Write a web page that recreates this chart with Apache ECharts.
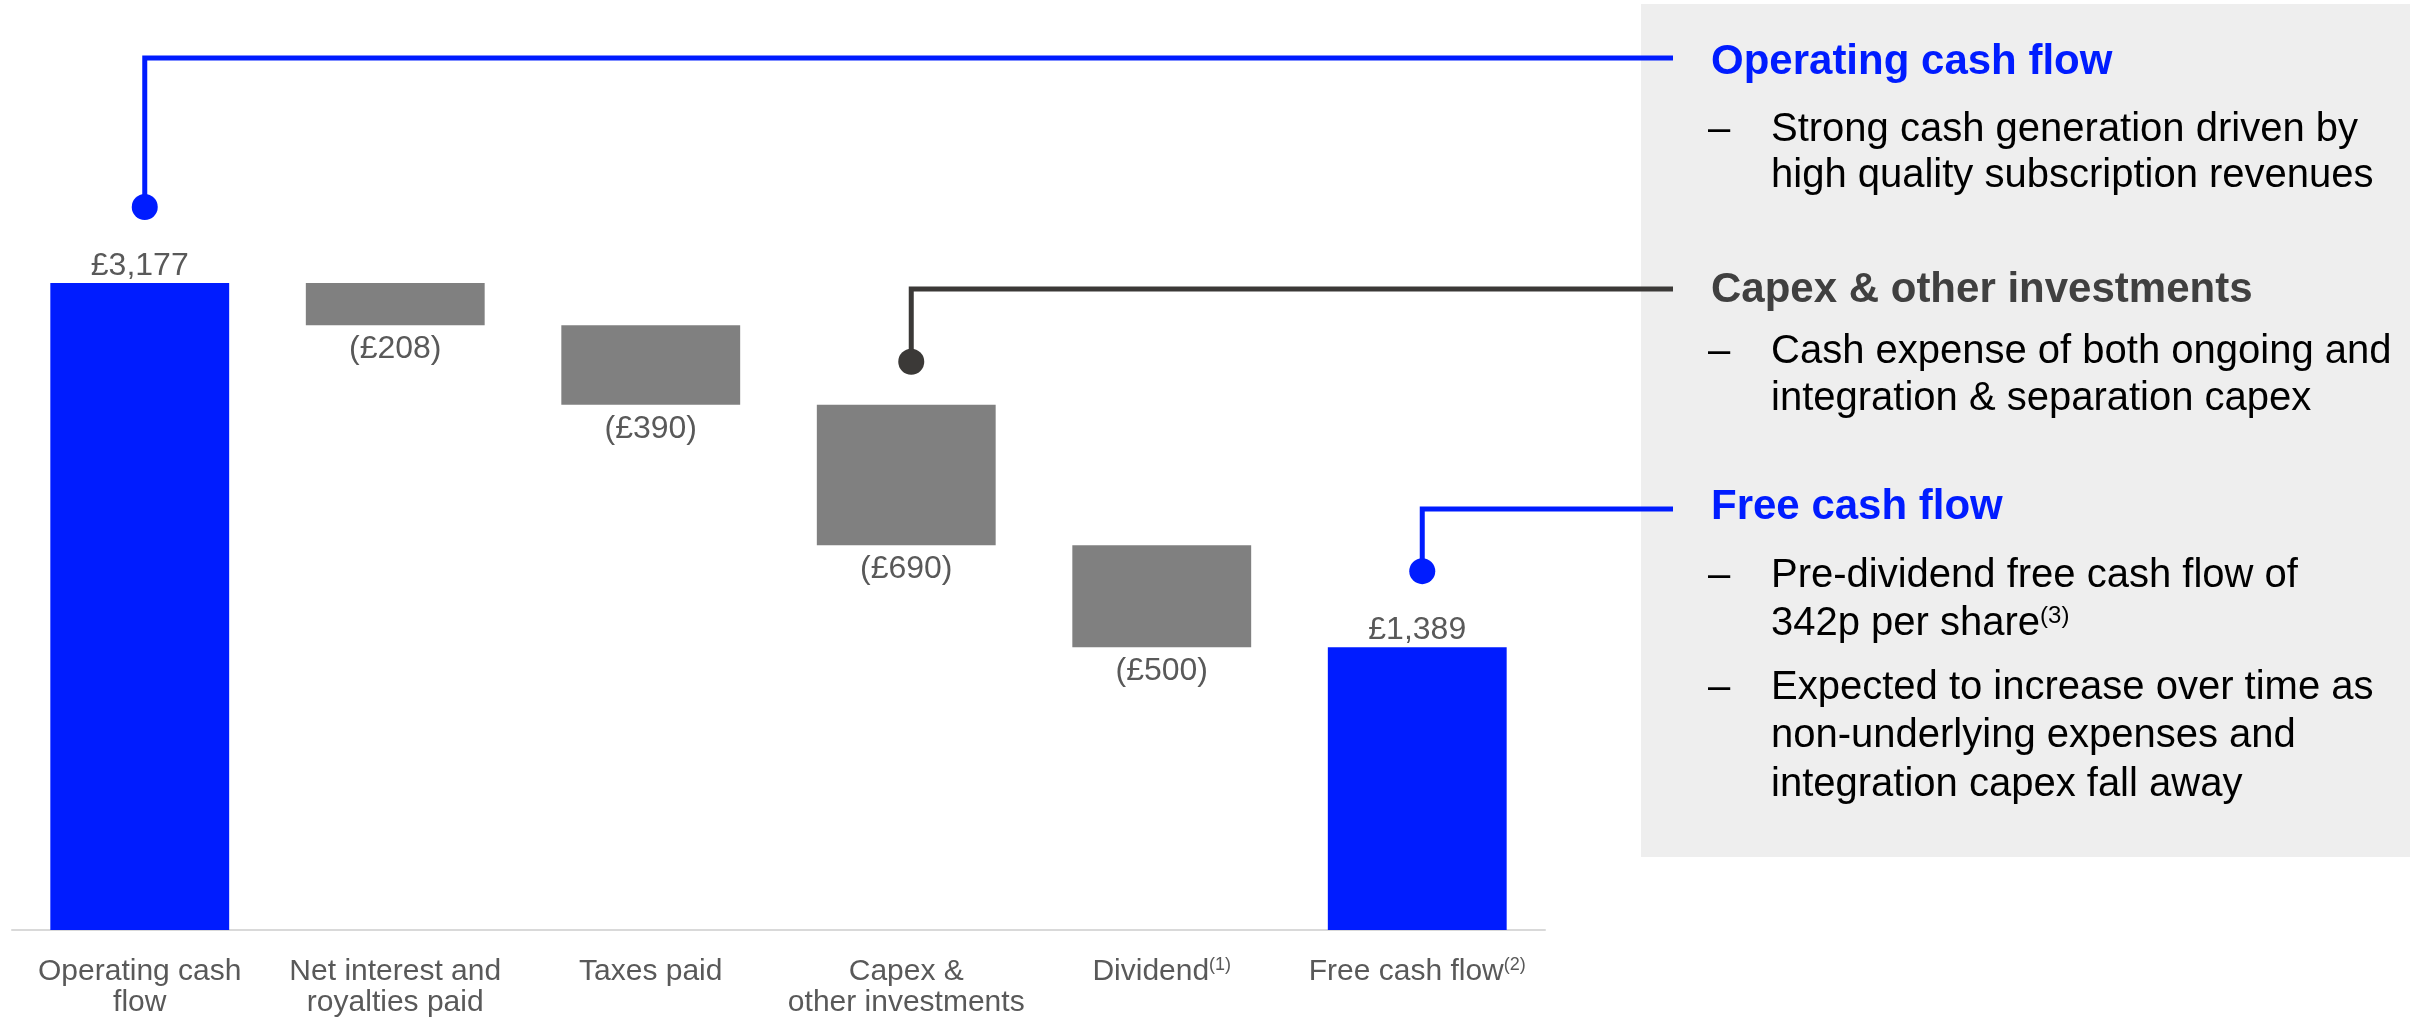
<!DOCTYPE html>
<html>
<head>
<meta charset="utf-8">
<title>Free cash flow bridge</title>
<script src="https://cdn.jsdelivr.net/npm/echarts@6/dist/echarts.min.js"></script>
<style>
  html, body { margin: 0; padding: 0; background: #fff; }
  #chart { width: 2410px; height: 1018px; }
</style>
</head>
<body>
<div id="chart"></div>
<script>
// bridge steps, in £m
const categories = ['Operating cash\nflow', 'Net interest and\nroyalties paid', 'Taxes paid', 'Capex &\nother investments', 'Dividend', 'Free cash flow']
const footnotes = ['', '', '', '', '(1)', '(2)']
const amounts = [3177, -208, -390, -690, -500, 1389]
const isTotal = [true, false, false, false, false, true]

// commentary panel
const panelTitles = ['Operating cash flow', 'Capex & other investments', 'Free cash flow']
const panelBullets = [
  ['Strong cash generation driven by', 'high quality subscription revenues'],
  ['Cash expense of both ongoing and', 'integration & separation capex'],
  ['Pre-dividend free cash flow of', '342p per share{s|(3)}'],
  ['Expected to increase over time as', 'non-underlying expenses and', 'integration capex fall away']
]

const BLUE = '#001cff'
const GREY = '#808080'
const DARK = '#3b3937'
const LABEL = '#595959'
const FONT = '"Liberation Sans", Arial, sans-serif'

// invisible base of each floating bar
const bases = []
let running = 0
amounts.forEach((v, i) => {
  if (isTotal[i]) {
    bases.push(0)
    running = v
  } else {
    running += v
    bases.push(running)
  }
})

const fmt = v => '£' + Math.abs(v).toLocaleString('en-GB')

const chart = echarts.init(document.getElementById('chart'))

chart.setOption({
  backgroundColor: '#fff',
  animation: false,
  textStyle: { fontFamily: FONT },
  grid: { left: 12, right: 865, top: 283, bottom: 87 },
  xAxis: {
    type: 'category',
    data: categories,
    axisTick: { show: false },
    axisLine: { lineStyle: { color: '#d9d9d9', width: 2 } },
    axisLabel: {
      interval: 0,
      margin: 26,
      fontSize: 30,
      lineHeight: 31,
      color: LABEL,
      fontFamily: FONT,
      formatter: (val, i) => footnotes[i] ? val + '{s|' + footnotes[i] + '}' : val,
      rich: {
        s: { fontSize: 18, color: LABEL, verticalAlign: 'top', fontFamily: FONT }
      }
    }
  },
  yAxis: {
    type: 'value',
    min: 0,
    max: 3177,
    show: false,
    splitLine: { show: false }
  },
  series: [{
    name: 'base',
    type: 'bar',
    stack: 'bridge',
    silent: true,
    barWidth: '70%',
    itemStyle: { color: 'transparent' },
    data: bases
  }, {
    name: 'amount',
    type: 'bar',
    stack: 'bridge',
    barWidth: '70%',
    data: amounts.map((v, i) => ({
      value: Math.abs(v),
      itemStyle: { color: isTotal[i] ? BLUE : GREY },
      label: {
        show: true,
        position: isTotal[i] ? 'top' : 'bottom',
        distance: isTotal[i] ? 1 : 8,
        fontSize: 32,
        color: LABEL,
        fontFamily: FONT,
        formatter: isTotal[i] ? fmt(v) : '(' + fmt(v) + ')'
      }
    }))
  }]
})

// callouts: dot above a bar, line up then across to the panel
const toPx = (i, v) => chart.convertToPixel({ xAxisIndex: 0, yAxisIndex: 0 }, [i, v])
const callouts = [
  { idx: 0, rise: 76, y: 58, color: BLUE },
  { idx: 3, rise: 43, y: 289, color: DARK },
  { idx: 5, rise: 76, y: 509, color: BLUE }
]
const lineEnd = 1673

const graphics = [{
  type: 'rect',
  z: 0,
  shape: { x: 1641, y: 4, width: 769, height: 853 },
  style: { fill: '#eeeeee' }
}]

callouts.forEach(c => {
  const top = isTotal[c.idx] ? amounts[c.idx] : bases[c.idx] - amounts[c.idx]
  const p = toPx(c.idx, top)
  const x = p[0] + 5
  const dotY = p[1] - c.rise
  graphics.push({
    type: 'polyline',
    z: 10,
    shape: { points: [[x, dotY], [x, c.y], [lineEnd, c.y]] },
    style: { stroke: c.color, lineWidth: 5, fill: null, lineJoin: 'miter' }
  })
  graphics.push({
    type: 'circle',
    z: 10,
    shape: { cx: x, cy: dotY, r: 13 },
    style: { fill: c.color }
  })
})

const titleY = [62, 290, 507]
const titleColor = [BLUE, '#404040', BLUE]
panelTitles.forEach((t, i) => {
  graphics.push({
    type: 'text',
    z: 10,
    x: 1711,
    y: titleY[i],
    style: {
      text: t,
      fill: titleColor[i],
      font: 'bold 42px ' + FONT,
      verticalAlign: 'middle'
    }
  })
})

const bulletY = [[130, 176], [352, 399], [576, 624], [688, 736, 785]]
panelBullets.forEach((lines, b) => {
  graphics.push({
    type: 'text',
    z: 10,
    x: 1708,
    y: bulletY[b][0],
    style: { text: '–', fill: '#000', font: '40px ' + FONT, verticalAlign: 'middle' }
  })
  lines.forEach((ln, j) => {
    graphics.push({
      type: 'text',
      z: 10,
      x: 1771,
      y: bulletY[b][j],
      style: {
        text: ln,
        fill: '#000',
        font: '40px ' + FONT,
        verticalAlign: 'middle',
        rich: {
          s: { fontSize: 24, fontFamily: FONT, fill: '#000', verticalAlign: 'top' }
        }
      }
    })
  })
})

chart.setOption({ graphic: graphics })
</script>
</body>
</html>
